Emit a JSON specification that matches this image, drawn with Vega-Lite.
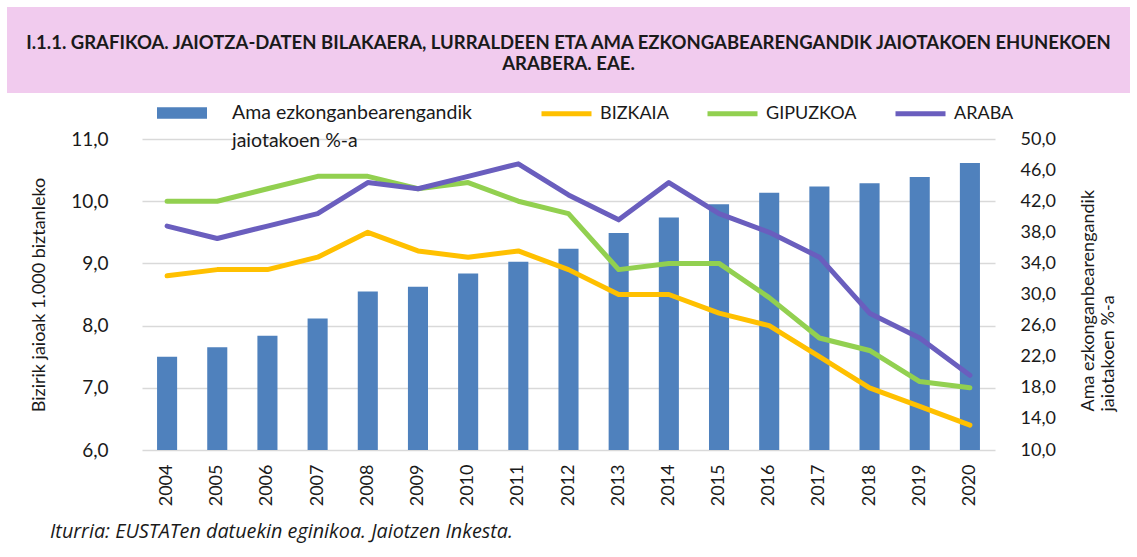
{
  "$schema": "https://vega.github.io/schema/vega-lite/v6.json",
  "padding": {"left": 7, "top": 7, "right": 0, "bottom": 5},
  "background": "white",
  "datasets": {
    "barrak": [
      {"urtea": "2004", "ehunekoa": 22.0},
      {"urtea": "2005", "ehunekoa": 23.2},
      {"urtea": "2006", "ehunekoa": 24.7},
      {"urtea": "2007", "ehunekoa": 26.9},
      {"urtea": "2008", "ehunekoa": 30.4},
      {"urtea": "2009", "ehunekoa": 31.0},
      {"urtea": "2010", "ehunekoa": 32.7},
      {"urtea": "2011", "ehunekoa": 34.2},
      {"urtea": "2012", "ehunekoa": 35.9},
      {"urtea": "2013", "ehunekoa": 37.9},
      {"urtea": "2014", "ehunekoa": 39.9},
      {"urtea": "2015", "ehunekoa": 41.6},
      {"urtea": "2016", "ehunekoa": 43.1},
      {"urtea": "2017", "ehunekoa": 43.9},
      {"urtea": "2018", "ehunekoa": 44.3},
      {"urtea": "2019", "ehunekoa": 45.1},
      {"urtea": "2020", "ehunekoa": 46.9}
    ],
    "lerroak": [
      {"urtea": "2004", "lurraldea": "BIZKAIA", "balioa": 8.8},
      {"urtea": "2005", "lurraldea": "BIZKAIA", "balioa": 8.9},
      {"urtea": "2006", "lurraldea": "BIZKAIA", "balioa": 8.9},
      {"urtea": "2007", "lurraldea": "BIZKAIA", "balioa": 9.1},
      {"urtea": "2008", "lurraldea": "BIZKAIA", "balioa": 9.5},
      {"urtea": "2009", "lurraldea": "BIZKAIA", "balioa": 9.2},
      {"urtea": "2010", "lurraldea": "BIZKAIA", "balioa": 9.1},
      {"urtea": "2011", "lurraldea": "BIZKAIA", "balioa": 9.2},
      {"urtea": "2012", "lurraldea": "BIZKAIA", "balioa": 8.9},
      {"urtea": "2013", "lurraldea": "BIZKAIA", "balioa": 8.5},
      {"urtea": "2014", "lurraldea": "BIZKAIA", "balioa": 8.5},
      {"urtea": "2015", "lurraldea": "BIZKAIA", "balioa": 8.2},
      {"urtea": "2016", "lurraldea": "BIZKAIA", "balioa": 8.0},
      {"urtea": "2017", "lurraldea": "BIZKAIA", "balioa": 7.5},
      {"urtea": "2018", "lurraldea": "BIZKAIA", "balioa": 7.0},
      {"urtea": "2019", "lurraldea": "BIZKAIA", "balioa": 6.7},
      {"urtea": "2020", "lurraldea": "BIZKAIA", "balioa": 6.4},
      {"urtea": "2004", "lurraldea": "GIPUZKOA", "balioa": 10.0},
      {"urtea": "2005", "lurraldea": "GIPUZKOA", "balioa": 10.0},
      {"urtea": "2006", "lurraldea": "GIPUZKOA", "balioa": 10.2},
      {"urtea": "2007", "lurraldea": "GIPUZKOA", "balioa": 10.4},
      {"urtea": "2008", "lurraldea": "GIPUZKOA", "balioa": 10.4},
      {"urtea": "2009", "lurraldea": "GIPUZKOA", "balioa": 10.2},
      {"urtea": "2010", "lurraldea": "GIPUZKOA", "balioa": 10.3},
      {"urtea": "2011", "lurraldea": "GIPUZKOA", "balioa": 10.0},
      {"urtea": "2012", "lurraldea": "GIPUZKOA", "balioa": 9.8},
      {"urtea": "2013", "lurraldea": "GIPUZKOA", "balioa": 8.9},
      {"urtea": "2014", "lurraldea": "GIPUZKOA", "balioa": 9.0},
      {"urtea": "2015", "lurraldea": "GIPUZKOA", "balioa": 9.0},
      {"urtea": "2016", "lurraldea": "GIPUZKOA", "balioa": 8.45},
      {"urtea": "2017", "lurraldea": "GIPUZKOA", "balioa": 7.8},
      {"urtea": "2018", "lurraldea": "GIPUZKOA", "balioa": 7.6},
      {"urtea": "2019", "lurraldea": "GIPUZKOA", "balioa": 7.1},
      {"urtea": "2020", "lurraldea": "GIPUZKOA", "balioa": 7.0},
      {"urtea": "2004", "lurraldea": "ARABA", "balioa": 9.6},
      {"urtea": "2005", "lurraldea": "ARABA", "balioa": 9.4},
      {"urtea": "2006", "lurraldea": "ARABA", "balioa": 9.6},
      {"urtea": "2007", "lurraldea": "ARABA", "balioa": 9.8},
      {"urtea": "2008", "lurraldea": "ARABA", "balioa": 10.3},
      {"urtea": "2009", "lurraldea": "ARABA", "balioa": 10.2},
      {"urtea": "2010", "lurraldea": "ARABA", "balioa": 10.4},
      {"urtea": "2011", "lurraldea": "ARABA", "balioa": 10.6},
      {"urtea": "2012", "lurraldea": "ARABA", "balioa": 10.1},
      {"urtea": "2013", "lurraldea": "ARABA", "balioa": 9.7},
      {"urtea": "2014", "lurraldea": "ARABA", "balioa": 10.3},
      {"urtea": "2015", "lurraldea": "ARABA", "balioa": 9.8},
      {"urtea": "2016", "lurraldea": "ARABA", "balioa": 9.5},
      {"urtea": "2017", "lurraldea": "ARABA", "balioa": 9.1},
      {"urtea": "2018", "lurraldea": "ARABA", "balioa": 8.2},
      {"urtea": "2019", "lurraldea": "ARABA", "balioa": 7.8},
      {"urtea": "2020", "lurraldea": "ARABA", "balioa": 7.2}
    ]
  },
  "spacing": 46,
  "bounds": "flush",
  "center": true,
  "vconcat": [
    {
      "data": {"values": [{"izenburua": "I.1.1. GRAFIKOA. JAIOTZA-DATEN BILAKAERA, LURRALDEEN ETA AMA EZKONGABEARENGANDIK JAIOTAKOEN EHUNEKOEN\nARABERA. EAE."}]},
      "width": 1123,
      "height": 86,
      "view": {"fill": "#F1CBEE", "stroke": null},
      "mark": {"type": "text", "font": "Lato", "fontSize": 18.5, "fontWeight": "bold", "color": "#1a1a1a", "lineBreak": "\n", "lineHeight": 21, "align": "center", "baseline": "middle", "dy": -7},
      "encoding": {"text": {"field": "izenburua", "type": "nominal"}}
    },
    {
      "width": 853,
      "height": 311,
      "title": {
        "text": "Iturria: EUSTATen datuekin eginikoa. Jaiotzen Inkesta.",
        "orient": "bottom",
        "anchor": "start",
        "frame": "group",
        "dx": -92,
        "offset": 16,
        "font": "Open Sans",
        "fontSize": 19.8,
        "fontStyle": "italic",
        "fontWeight": "normal",
        "color": "#1a1a1a"
      },
      "layer": [
        {
          "data": {"name": "barrak"},
          "mark": {"type": "bar"},
          "encoding": {
            "x": {
              "field": "urtea",
              "type": "ordinal",
              "scale": {"paddingInner": 0.6, "paddingOuter": 0.3},
              "axis": {"title": null, "labelAngle": 270, "labelFontSize": 18, "labelPadding": 14, "ticks": false, "domain": false, "grid": false}
            },
            "y": {
              "field": "ehunekoa",
              "type": "quantitative",
              "scale": {"domain": [10, 50], "nice": false, "zero": false},
              "axis": {
                "orient": "right",
                "values": [10, 14, 18, 22, 26, 30, 34, 38, 42, 46, 50],
                "labelExpr": "replace(format(datum.value, '.1f'), '.', ',')",
                "labelFontSize": 18,
                "labelPadding": 25,
                "ticks": false,
                "domain": false,
                "grid": false,
                "title": ["Ama ezkonganbearengandik", "jaiotakoen %-a"],
                "titleFontSize": 18,
                "titleFontWeight": "normal",
                "titleAngle": 270,
                "titleAlign": "left",
                "titleBaseline": "top",
                "titleX": 84,
                "titleY": 272
              }
            },
            "y2": {"datum": 10},
            "fill": {
              "datum": "Ama ezkonganbearengandik jaiotakoen %-a",
              "type": "nominal",
              "scale": {"range": ["#4F81BD"]},
              "legend": {
                "orient": "none",
                "legendX": 150,
                "legendY": 81,
                "title": null,
                "padding": 0,
                "symbolType": "M-1,-0.23H1V0.23H-1Z",
                "symbolSize": 2500,
                "symbolStrokeWidth": 0,
                "labelOffset": 25,
                "labelFontSize": 19.5,
                "labelLimit": 400,
                "labelBaseline": "middle",
                "labelExpr": "['Ama ezkonganbearengandik', 'jaiotakoen %-a']"
              }
            }
          }
        },
        {
          "data": {"name": "lerroak"},
          "mark": {"type": "line", "strokeWidth": 5, "strokeCap": "round", "strokeJoin": "round"},
          "encoding": {
            "x": {"field": "urtea", "type": "ordinal"},
            "y": {
              "field": "balioa",
              "type": "quantitative",
              "scale": {"domain": [6, 11], "nice": false, "zero": false},
              "axis": {
                "orient": "left",
                "values": [6, 7, 8, 9, 10, 11],
                "labelExpr": "replace(format(datum.value, '.1f'), '.', ',')",
                "labelFontSize": 19,
                "labelPadding": 34,
                "ticks": false,
                "domain": false,
                "grid": true,
                "gridColor": "#D9D9D9",
                "gridWidth": 1.5,
                "title": "Bizirik jaioak 1.000 biztanleko",
                "titleFontSize": 18,
                "titleFontWeight": "normal",
                "titlePadding": 22
              }
            },
            "stroke": {
              "field": "lurraldea",
              "type": "nominal",
              "scale": {"domain": ["BIZKAIA", "GIPUZKOA", "ARABA"], "range": ["#FFC000", "#92D050", "#6A5EBE"]},
              "legend": {
                "orient": "none",
                "legendX": 532,
                "legendY": 79,
                "direction": "horizontal",
                "title": null,
                "padding": 0,
                "symbolType": "M-1,0H1",
                "symbolSize": 2500,
                "symbolStrokeWidth": 5,
                "labelOffset": 6,
                "columnPadding": 28,
                "labelFontSize": 18
              }
            }
          }
        }
      ],
      "resolve": {"scale": {"y": "independent"}}
    }
  ],
  "config": {
    "font": "Lato",
    "view": {"stroke": null},
    "axis": {"labelFont": "Lato", "titleFont": "Lato", "labelColor": "#1a1a1a", "titleColor": "#1a1a1a"},
    "legend": {"labelFont": "Lato", "labelColor": "#1a1a1a"},
    "style": {"guide-label": {"lineHeight": 28}}
  }
}
